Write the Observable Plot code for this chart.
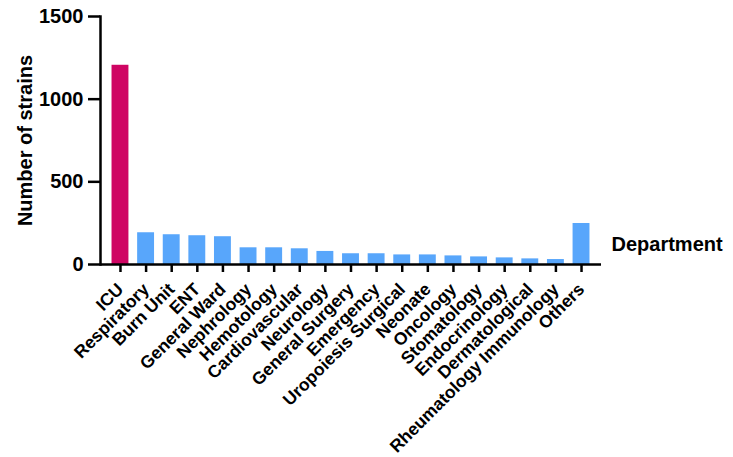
<!DOCTYPE html>
<html>
<head>
<meta charset="utf-8">
<script src="https://cdn.jsdelivr.net/npm/d3@7"></script>
<script src="https://cdn.jsdelivr.net/npm/@observablehq/plot@0.6"></script>
<style>
  html, body { margin: 0; padding: 0; background: #fff; }
</style>
</head>
<body>
<div id="chart"></div>
<script>
const departments = ["ICU", "Respiratory", "Burn Unit", "ENT", "General Ward", "Nephrology", "Hemotology", "Cardiovascular", "Neurology", "General Surgery", "Emergency", "Uropoiesis Surgical", "Neonate", "Oncology", "Stomatology", "Endocrinology", "Dermatological", "Rheumatology Immunology", "Others"];
const strains = [1205, 192, 180, 174, 168, 101, 101, 95, 79, 65, 65, 58, 58, 52, 46, 40, 34, 30, 248];
const yTicks = [0, 500, 1000, 1500];
const highlight = "ICU";

const data = departments.map((d, i) => ({dept: d, value: strains[i]}));
const red = "#cf0563";
const blue = "#58a6fb";

const chart = Plot.plot({
  width: 733,
  height: 457,
  marginLeft: 100,
  marginRight: 132,
  marginTop: 16,
  marginBottom: 193,
  style: {fontFamily: "'Liberation Sans', Arial, sans-serif", fontWeight: "bold", background: "#fff", color: "#000", overflow: "visible"},
  x: {domain: departments, paddingInner: 0.34, paddingOuter: 0.45, round: false, label: null},
  y: {domain: [0, 1500], label: null},
  marks: [
    Plot.barY(data.filter(d => d.dept === highlight), {x: "dept", y: "value", fill: red}),
    Plot.barY(data.filter(d => d.dept !== highlight), {x: "dept", y: "value", fill: blue}),
    Plot.axisY({ticks: yTicks, tickFormat: d => String(d), tickSize: 12, tickPadding: 5, fontSize: 20, strokeWidth: 2.5, label: null}),
    Plot.axisX({tickRotate: -45, tickSize: 8, tickPadding: 14, fontSize: 17.5, strokeWidth: 2.5, label: null}),
    Plot.frame({anchor: "left", strokeWidth: 2.5}),
    Plot.ruleY([0], {strokeWidth: 2.5}),
    Plot.text(["Number of strains"], {frameAnchor: "left", textAnchor: "middle", rotate: -90, dx: -75, fontSize: 20, fontWeight: "bold"}),
    Plot.text(["Department"], {frameAnchor: "bottom-right", textAnchor: "start", dx: 10, dy: -14, fontSize: 20, fontWeight: "bold"})
  ]
});
document.getElementById("chart").appendChild(chart);
</script>
</body>
</html>
